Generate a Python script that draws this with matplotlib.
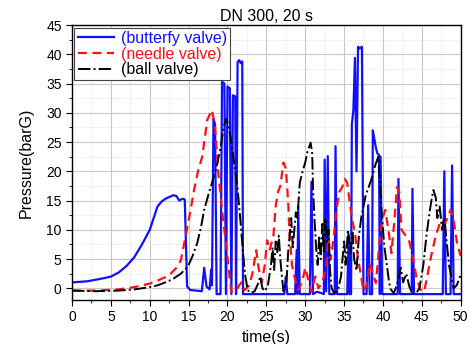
import matplotlib
matplotlib.use("Agg")
import matplotlib.pyplot as plt
from matplotlib.ticker import MultipleLocator

plt.rcParams['font.family'] = ['Liberation Sans', 'DejaVu Sans']

# butterfly valve (blue, solid)
t_bfly = [0, 2, 4, 5, 6, 7, 8, 9, 10, 10.5, 11, 11.5, 12, 12.5, 13, 13.4, 13.8, 14.2, 14.5,
          14.65, 14.8, 15.2, 16, 16.7, 17.0, 17.3, 17.7, 17.9, 18.0, 18.2, 18.4, 18.6,
          19.1, 19.3, 19.6, 19.8, 20.0, 20.3, 20.5, 20.7, 21.0, 21.1, 21.3, 21.5, 21.7, 21.9, 22.0,
          27.3, 27.5, 27.7, 28.7, 28.9, 29.0, 29.1, 29.3, 30.6, 30.8, 31.0, 31.5, 32.0, 32.4,
          32.5, 32.7, 32.9, 33.1, 33.8, 33.9, 34.1, 35.4, 35.6, 35.7, 35.9, 36.0, 36.2, 36.4,
          36.6, 36.8, 37.0, 37.3, 37.5, 37.9, 38.1, 38.3, 38.6, 38.7, 38.9, 39.1, 39.3, 39.5,
          39.6, 39.7, 39.9, 41.9, 42.0, 42.2, 43.7, 43.8, 44.0, 47.7, 47.9, 48.1, 48.7, 48.9,
          49.1, 50]
p_bfly = [1.0, 1.2, 1.7, 2.0, 2.7, 3.8, 5.3, 7.5, 10.0, 12.0, 14.0, 14.8, 15.3, 15.6, 15.9, 15.8, 15.0, 15.3, 15.2,
          8.0, 0.3, -0.3, -0.4, -0.5, 3.5, 0.3, -0.2, 3.2, 0.5, 29.0, 28.0, -1.0,
          -1.0, 35.3, 35.0, -1.0, 34.5, 34.2, -1.0, 33.0, 32.8, -1.0, 38.7, 39.0, 38.5, 38.8, -1.0,
          -1.0, 2.0, -1.0, -1.0, 6.5, -1.0, 14.0, -1.0, -1.0, 18.2, -1.0, -0.6, -0.8, -1.0,
          22.0, -0.5, 22.6, -1.0, -1.0, 24.3, -1.0, -1.0, 9.0, -1.0, -1.0, 28.0, 30.5, 39.4,
          20.0, 41.3, 41.0, 41.3, -1.0, -1.0, 14.2, -1.0, -1.0, 27.0, 25.5, 24.0, 23.0, 22.8,
          -1.0, 22.5, -1.0, -1.0, 18.7, -1.0, -1.0, 17.0, -1.0, -1.0, 20.0, -1.0, -1.0, 21.0,
          -1.0, -1.0]

# needle valve (red, dashed)
t_needle = [0, 3, 6, 8, 10, 11, 12, 12.7, 13.5, 14.0, 14.6, 15.2, 15.7, 16.2, 16.75, 17.4, 18.0,
            18.4, 18.8, 19.3, 19.9, 20.3, 20.5, 21.0, 21.5, 21.8, 22.2, 22.8, 23.2, 23.7, 24.0,
            24.4, 24.8, 25.1, 25.4, 25.9, 26.2, 26.5, 26.8, 27.2, 27.5, 27.8, 28.0, 28.3, 28.7,
            29.1, 29.6, 30.0, 30.4, 30.8, 31.3, 31.7, 32.2, 32.7, 33.0, 33.3, 33.7, 34.0, 34.4,
            34.8, 35.1, 35.4, 35.7, 36.0, 36.4, 36.8, 37.2, 37.5, 37.9, 38.3, 38.7, 39.1, 39.5,
            39.9, 40.3, 40.7, 41.1, 41.5, 41.8, 42.1, 42.4, 42.9, 43.4, 43.8, 44.3, 44.8, 45.3,
            45.7, 46.2, 46.8, 47.3, 47.8, 48.3, 48.7, 49.1, 49.5, 49.8, 50.0]
p_needle = [-0.4, -0.4, -0.2, 0.2, 0.8, 1.3, 1.9, 2.5, 3.6, 4.8, 8.8, 13.0, 16.8, 20.0, 22.5, 28.8, 30.5,
            27.6, 20.0, 13.4, 6.5, 1.5, -0.6, -0.6, 0.5, 1.0, -0.3, 0.5, 2.5, 6.5, 3.5,
            1.0, 4.0, 8.2, 6.5, 8.8, 14.0, 16.5, 17.5, 21.5, 20.5, 15.0, 9.0, 4.0, 1.5,
            -0.3, 1.0, 3.5, 1.5, -0.6, 2.0, 0.0, 1.0, 3.5, 8.5, 5.0, 9.0, 13.4, 16.5,
            17.4, 18.7, 18.0, 15.0, 12.0, 9.5, 5.0, 2.0, -0.5, 0.5, 4.3, 2.5, 0.9, 7.0,
            11.7, 13.4, 10.0, 6.0, 12.0, 17.3, 16.5, 10.0, 9.0, 8.0, 5.5, 2.0, -0.2, -0.6,
            2.0, 5.5, 9.0, 11.0, 10.5, 12.0, 13.4, 11.7, 8.0, 6.5, 5.5]

# ball valve (black, dash-dot)
t_ball = [0, 3, 6, 8, 10, 11, 12, 13, 14, 14.9, 15.5, 16.1, 16.6, 17.0, 17.5, 18.0, 18.6, 19.1,
          19.5, 19.8, 20.1, 20.5, 20.9, 21.3, 21.7, 22.0, 22.3, 22.6, 23.0, 23.5, 24.0, 24.2,
          24.5, 24.8, 25.2, 25.6, 25.8, 26.0, 26.2, 26.4, 26.6, 26.8, 27.0, 27.2, 27.6, 27.8,
          28.0, 28.2, 28.4, 28.6, 28.8, 29.0, 29.3, 29.7, 30.0, 30.3, 30.7, 30.9, 31.0, 31.2,
          31.4, 31.6, 31.8, 32.0, 32.2, 32.4, 32.6, 32.8, 33.0, 33.2, 33.4, 33.7, 34.2, 34.6,
          35.0, 35.2, 35.5, 35.8, 36.1, 36.3, 36.6, 36.9, 37.2, 37.5, 37.8, 38.2, 38.6, 39.0,
          39.4, 39.7, 39.9, 40.2, 40.5, 40.8, 41.0, 41.4, 41.8, 42.3, 42.6, 43.0, 43.4, 43.8,
          44.3, 44.7, 45.2, 45.6, 46.0, 46.3, 46.5, 46.8, 47.0, 47.3, 47.6, 47.9, 48.2, 48.5,
          48.8, 49.1, 49.5, 50]
p_ball = [-0.4, -0.5, -0.4, -0.2, 0.2, 0.5, 1.0, 1.6, 2.5, 3.7, 5.5, 7.7, 10.5, 13.4, 15.8, 18.0, 20.8, 24.0,
          27.5, 29.0, 28.0, 25.0, 21.0, 17.0, 11.0, 6.0, 2.0, -0.3, -0.8, -0.5, 1.0, 2.0,
          0.0, -0.5, 0.5, 4.0, 7.0, 3.0, 8.0, 6.0, 9.0, 5.0, 2.0, -0.5, 1.0, 6.0,
          9.0, 12.0, 7.0, 10.0, 13.0, 12.0, 18.0, 20.2, 21.5, 23.4, 24.9, 23.0, 17.4, 11.7,
          7.0, 4.0, 9.0, 5.0, 11.0, 6.0, 12.0, 8.0, 10.0, 3.0, 0.0, -0.8, -0.5, 2.0,
          8.0, 4.0, 10.0, 6.0, 9.5, 5.0, 3.0, 8.8, 12.0, 14.0, 16.0, 17.4, 19.0, 21.0,
          22.5, 16.0, 11.7, 7.0, 4.0, 1.0, -0.2, -0.8, 0.5, 3.5, 1.0, 2.5, 0.3, -1.0,
          -0.8, 0.0, 4.0, 9.0, 13.0, 15.5, 16.8, 15.5, 12.0, 14.0, 10.0, 12.0, 8.0, 4.0,
          2.0, 0.0, 0.5, 2.3]

fig = plt.figure(figsize=(4.71, 3.44), dpi=100)
ax = fig.add_axes([0.153, 0.128, 0.825, 0.799])

ax.plot(t_bfly, p_bfly, color='#1010ff', lw=1.6, label='(butterfy valve)')
ax.plot(t_needle, p_needle, color='#ff1010', lw=1.6, ls='--', dashes=(4, 2.5), label='(needle valve)')
ax.plot(t_ball, p_ball, color='black', lw=1.4, ls='-.', label='(ball valve)')

ax.set_xlim(0, 50)
ax.set_ylim(-2, 45)
ax.xaxis.set_major_locator(MultipleLocator(5))
ax.xaxis.set_minor_locator(MultipleLocator(2.5))
ax.yaxis.set_major_locator(MultipleLocator(5))
ax.yaxis.set_minor_locator(MultipleLocator(2.5))
ax.grid(True, which='major', color='#c8c8c8', lw=0.8)
ax.grid(True, which='minor', color='#d8d8d8', lw=0.6, ls=':')
ax.set_axisbelow(True)
ax.tick_params(which='both', direction='out', labelsize=10)
ax.tick_params(which='major', length=4)
ax.tick_params(which='minor', length=2.5)
for s in ax.spines.values():
    s.set_linewidth(1.0)

ax.set_xlabel('time(s)', fontsize=11.5, labelpad=4)
ax.set_ylabel('Pressure(barG)', fontsize=11.5, labelpad=9)
ax.set_title('DN 300, 20 s', fontsize=11.5, pad=3)

leg = ax.legend(loc='upper left', fontsize=11.5, frameon=True, fancybox=False,
                edgecolor='#444444', framealpha=1, borderaxespad=0.15, borderpad=0.2,
                labelspacing=0.05, handlelength=2.3, handletextpad=0.4)
leg.get_frame().set_linewidth(0.8)
for txt, col in zip(leg.get_texts(), ['#1010ff', '#ff1010', 'black']):
    txt.set_color(col)

fig.savefig('out.png', dpi=100)
